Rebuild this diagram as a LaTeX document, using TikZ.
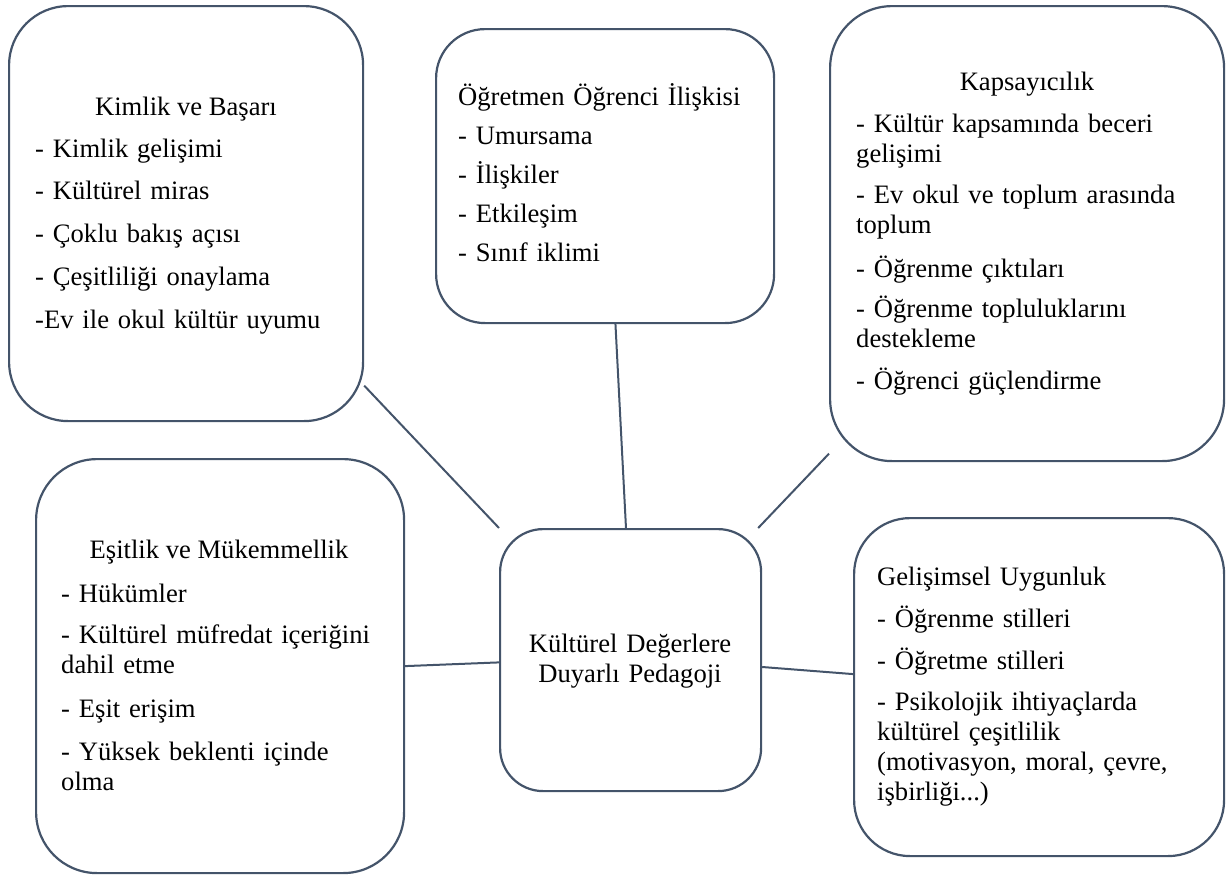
\documentclass[tikz,border=0pt]{standalone}
\usepackage{fontspec}
\setmainfont{Liberation Serif}
\definecolor{slate}{RGB}{68,84,106}
\begin{document}
\begin{tikzpicture}[x=1pt,y=-1pt,
  panel/.style={draw=slate, line width=2.2pt, fill=white, inner sep=0pt, anchor=north west},
  link/.style={draw=slate, line width=2pt},
  txt/.style={inner sep=0pt, font=\fontsize{26.6}{30}\selectfont},
  list/.style={txt, anchor=base west, text width=340pt, align=left},
  head/.style={txt, anchor=base}]
\useasboundingbox (0,0) rectangle (1227,878);

% rounded panels
\node[panel, minimum width=354pt, minimum height=415pt, rounded corners=59pt] (kimlik) at (8,5) {};
\node[panel, minimum width=338pt, minimum height=294pt, rounded corners=49pt] (ogretmen) at (435,28) {};
\node[panel, minimum width=394pt, minimum height=455pt, rounded corners=62pt] (kapsam) at (829,5) {};
\node[panel, minimum width=368pt, minimum height=414pt, rounded corners=61pt] (esitlik) at (35,458) {};
\node[panel, minimum width=261pt, minimum height=262pt, rounded corners=43pt] (ped) at (499,528) {};
\node[panel, minimum width=370pt, minimum height=338pt, rounded corners=56pt] (gelisim) at (853,517) {};

% texts
\node[head] (kimlikH) at (186,115) {Kimlik ve Başarı};
\node[list] (kimlikL) at (35,157) {- Kimlik gelişimi\\[12.75pt]- Kültürel miras\\[12.75pt]- Çoklu bakış açısı\\[12.75pt]- Çeşitliliği onaylama\\[12.75pt]-Ev ile okul kültür uyumu};

\node[list] (ogretmenL) at (458,105) {Öğretmen Öğrenci İlişkisi\\[9pt]- Umursama\\[9pt]- İlişkiler\\[9pt]- Etkileşim\\[9pt]- Sınıf iklimi};

\node[head] (kapsamH) at (1027,90) {Kapsayıcılık};
\node[list] (kapsamL) at (856,132) {- Kültür kapsamında beceri\\gelişimi\\[11pt]- Ev okul ve toplum arasında\\toplum\\[14pt]- Öğrenme çıktıları\\[10pt]- Öğrenme topluluklarını\\destekleme\\[12pt]- Öğrenci güçlendirme};

\node[head] (esitlikH) at (219,558) {Eşitlik ve Mükemmellik};
\node[list] (esitlikL) at (61,602) {- Hükümler\\[11pt]- Kültürel müfredat içeriğini\\dahil etme\\[14pt]- Eşit erişim\\[13pt]- Yüksek beklenti içinde\\olma};

\node[txt, anchor=base, text width=250pt, align=center] (pedT) at (630,652) {Kültürel Değerlere\\Duyarlı Pedagoji};

\node[list] (gelisimL) at (877,585) {Gelişimsel Uygunluk\\[12pt]- Öğrenme stilleri\\[12pt]- Öğretme stilleri\\[11pt]- Psikolojik ihtiyaçlarda\\kültürel çeşitlilik\\(motivasyon, moral, çevre,\\işbirliği...)};

% connectors to the central panel
\draw[link] (kimlik.-44.76) -- (ped.north west);
\draw[link] (ogretmen.-86.5) -- (ped.92.8);
\draw[link] (kapsam.-132.96) -- (ped.46.9);
\draw[link] (esitlik.0.6) -- (ped.-179.1);
\draw[link] (ped.-3.5) -- (gelisim.176);
\end{tikzpicture}
\end{document}
